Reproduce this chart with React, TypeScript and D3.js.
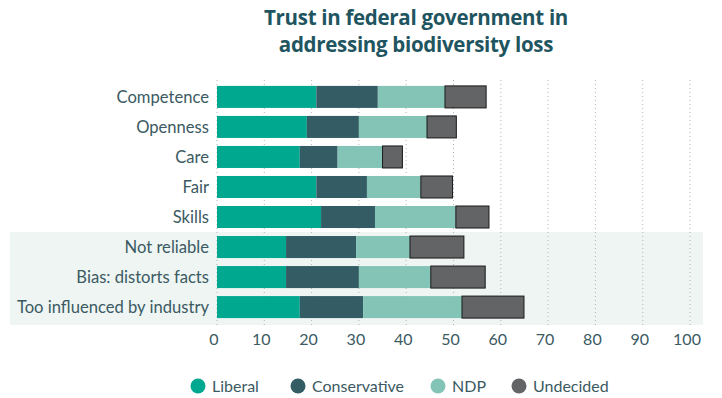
import React from "react";
import * as d3 from "d3";

const categories = [
  "Competence",
  "Openness",
  "Care",
  "Fair",
  "Skills",
  "Not reliable",
  "Bias: distorts facts",
  "Too influenced by industry",
];
const seriesNames = ["Liberal", "Conservative", "NDP", "Undecided"];
const liberal = [21, 19, 17.5, 21, 22, 14.6, 14.6, 17.5];
const conservative = [13, 11, 8, 10.7, 11.4, 14.8, 15.4, 13.4];
const ndp = [14.2, 14.4, 9.5, 11.4, 17.1, 11.4, 15.2, 20.9];
const undecided = [8.7, 6.2, 4.2, 6.7, 7, 11.4, 11.5, 13.1];
const ticks = [0, 10, 20, 30, 40, 50, 60, 70, 80, 90, 100];
const highlighted = ["Not reliable", "Bias: distorts facts", "Too influenced by industry"];

const colors = ["#00a88f", "#335c64", "#84c4b7", "#636466"];
const textColor = "#3b5a62";
const font = "Lato, 'Open Sans', sans-serif";

export default function App() {
  const width = 722;
  const height = 398;
  const x = d3.scaleLinear().domain([0, 100]).range([217, 690]);
  const y = d3
    .scaleBand()
    .domain(categories)
    .range([82, 322])
    .paddingInner(8 / 30)
    .paddingOuter(0.13);

  const rows = categories.map((c, i) => ({
    cat: c,
    Liberal: liberal[i],
    Conservative: conservative[i],
    NDP: ndp[i],
    Undecided: undecided[i],
  }));
  const stacked = d3.stack<any>().keys(seriesNames)(rows);

  const hlTop = (y(highlighted[0]) as number) - 4;
  const hlBottom = 325;

  return (
    <svg
      width={width}
      height={height}
      style={{ position: "absolute", left: 0, top: 0, display: "block" }}
    >
      <rect x={0} y={0} width={width} height={height} fill="#ffffff" />
      <text
        x={416}
        y={25}
        textAnchor="middle"
        fontFamily="'Open Sans', Lato, sans-serif"
        fontWeight={700}
        fontSize={20.5}
        fill="#1f5560"
        letterSpacing={-0.3}
      >
        Trust in federal government in
      </text>
      <text
        x={416}
        y={52}
        textAnchor="middle"
        fontFamily="'Open Sans', Lato, sans-serif"
        fontWeight={700}
        fontSize={20.5}
        fill="#1f5560"
        letterSpacing={-0.3}
      >
        addressing biodiversity loss
      </text>

      <rect x={10} y={hlTop} width={693} height={hlBottom - hlTop} fill="#eef5f3" />

      {ticks.map((t) => (
        <line
          key={"g" + t}
          x1={x(t)}
          x2={x(t)}
          y1={80}
          y2={325}
          stroke="#b5b5b5"
          strokeWidth={1}
          strokeDasharray="1,3"
        />
      ))}

      {stacked.map((s, si) =>
        s.map((d: any, i: number) => (
          <rect
            key={si + "-" + i}
            x={x(d[0])}
            y={y(categories[i]) as number}
            width={x(d[1]) - x(d[0])}
            height={y.bandwidth()}
            fill={colors[si]}
            stroke={si === 3 ? "#1a1a1a" : "none"}
            strokeWidth={si === 3 ? 1 : 0}
          />
        ))
      )}

      {categories.map((c) => (
        <text
          key={"l" + c}
          x={209}
          y={(y(c) as number) + y.bandwidth() / 2}
          dy="0.35em"
          textAnchor="end"
          fontFamily={font}
          fontSize={16.6}
          fill={textColor}
        >
          {c}
        </text>
      ))}

      {ticks.map((t) => (
        <text
          key={"t" + t}
          x={x(t) - 3}
          y={345}
          textAnchor="middle"
          fontFamily={font}
          fontSize={16}
          fill={textColor}
        >
          {t}
        </text>
      ))}

      {(() => {
        const legendX = [198, 298, 438, 519];
        return seriesNames.map((n, i) => (
          <g key={"lg" + n}>
            <circle cx={legendX[i]} cy={386} r={7.5} fill={colors[i]} />
            <text
              x={legendX[i] + 14}
              y={386}
              dy="0.35em"
              fontFamily={font}
              fontSize={16}
              fill={textColor}
            >
              {n}
            </text>
          </g>
        ));
      })()}
    </svg>
  );
}
